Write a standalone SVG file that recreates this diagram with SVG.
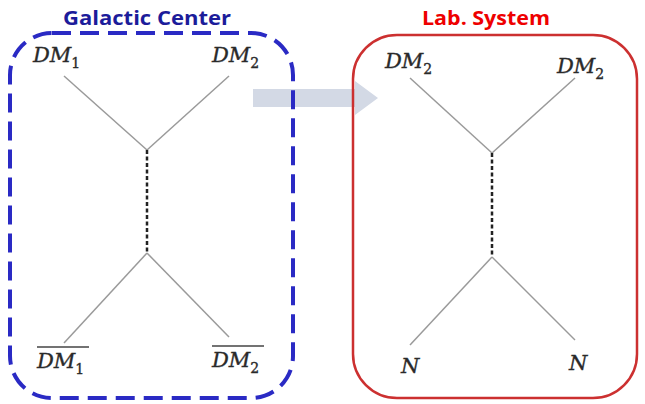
<svg xmlns="http://www.w3.org/2000/svg" width="645" height="404" viewBox="0 0 645 404">
<style>
.title{font-family:"Open Sans","Liberation Sans",sans-serif;font-weight:bold;font-size:20px;text-anchor:middle}
.lbl{font-family:"DejaVu Serif","Liberation Serif",serif;font-style:italic;font-size:21px;fill:#2a2a2a;stroke:#2a2a2a;stroke-width:0.35}
.sub{font-style:normal;font-size:14px}
.leg{stroke:#9a9a9a;stroke-width:1.5;fill:none}
.prop{stroke:#222;stroke-width:2.5;stroke-dasharray:4 2.5;fill:none}
.bar{stroke:#444;stroke-width:1.3}
</style>
<rect width="645" height="404" fill="#fff"/>
<g id="arrow">
<polygon points="253,89 355,89 355,81 378,98 355,115 355,107 253,107" fill="#d3d9e5"/>
</g>
<g id="galactic-center">
<rect x="10" y="33" width="283" height="365" rx="42" fill="none" stroke="#2a2ac4" stroke-width="4" stroke-dasharray="19 9"/>
<text class="title" x="147" y="25" fill="#1c1c9a" textLength="168" lengthAdjust="spacingAndGlyphs">Galactic Center</text>
<text class="lbl" x="33" y="62">DM<tspan class="sub" dy="6">1</tspan></text>
<text class="lbl" x="212" y="62">DM<tspan class="sub" dy="6">2</tspan></text>
<line class="bar" x1="37" y1="347" x2="89" y2="347"/>
<text class="lbl" x="37" y="368">DM<tspan class="sub" dy="6">1</tspan></text>
<line class="bar" x1="212" y1="346" x2="264" y2="346"/>
<text class="lbl" x="212" y="367">DM<tspan class="sub" dy="6">2</tspan></text>
</g>
<g id="lab-system">
<rect x="353" y="35" width="284" height="363" rx="44" fill="none" stroke="#cc3030" stroke-width="2.5"/>
<text class="title" x="486" y="25" fill="#ee0000" textLength="128" lengthAdjust="spacingAndGlyphs">Lab. System</text>
<text class="lbl" x="385" y="68">DM<tspan class="sub" dy="6">2</tspan></text>
<text class="lbl" x="557" y="73">DM<tspan class="sub" dy="6">2</tspan></text>
<text class="lbl" x="401" y="373">N</text>
<text class="lbl" x="569" y="370">N</text>
</g>
<g id="connectors">
<line class="leg" x1="64" y1="76" x2="147" y2="150"/>
<line class="leg" x1="229" y1="76" x2="147" y2="150"/>
<line class="prop" x1="147" y1="150" x2="147" y2="253"/>
<line class="leg" x1="147" y1="253" x2="64" y2="343"/>
<line class="leg" x1="147" y1="253" x2="229" y2="337"/>
<line class="leg" x1="410" y1="78" x2="492" y2="153"/>
<line class="leg" x1="575" y1="78" x2="492" y2="153"/>
<line class="prop" x1="492" y1="153" x2="492" y2="257"/>
<line class="leg" x1="492" y1="257" x2="410" y2="345"/>
<line class="leg" x1="492" y1="257" x2="575" y2="340"/>
</g>
</svg>
